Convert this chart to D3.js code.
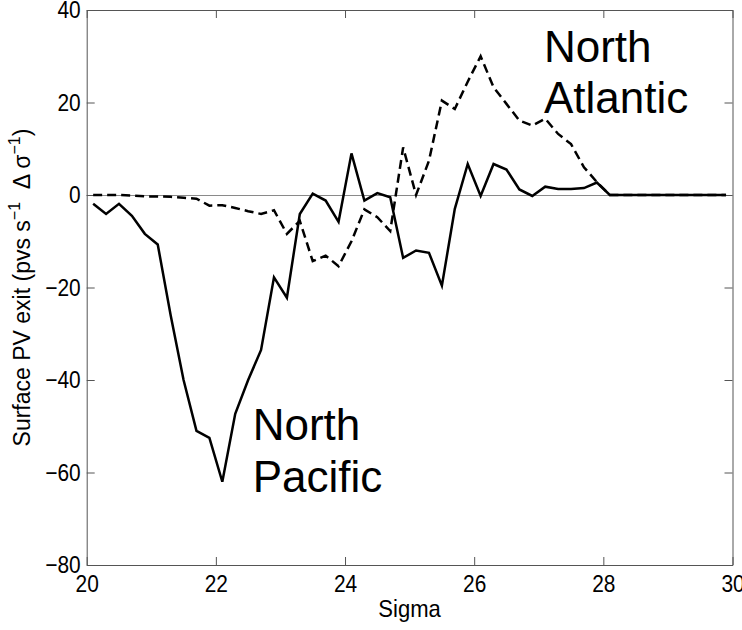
<!DOCTYPE html>
<meta charset="utf-8">
<html>
<head>
<style>
  body { margin: 0; background: #fff; }
  text { font-family: "Liberation Sans", Arial, Helvetica, sans-serif; }
</style>
</head>
<body>
<div id="chartContainer"></div>
<script src="https://d3js.org/d3.v7.min.js"></script>
<script type="text/javascript">

  // sigma bin centres (0.2 wide bins)
  var sigma = [20.1, 20.3, 20.5, 20.7, 20.9, 21.1, 21.3, 21.5, 21.7, 21.9,
               22.1, 22.3, 22.5, 22.7, 22.9, 23.1, 23.3, 23.5, 23.7, 23.9,
               24.1, 24.3, 24.5, 24.7, 24.9, 25.1, 25.3, 25.5, 25.7, 25.9,
               26.1, 26.3, 26.5, 26.7, 26.9, 27.1, 27.3, 27.5, 27.7, 27.9,
               28.1, 28.3, 28.5, 28.7, 28.9, 29.1, 29.3, 29.5, 29.7, 29.9];

  // surface PV exit, North Pacific (solid)
  var northPacific = [-1.9, -4.1, -1.9, -4.5, -8.4, -10.7, -26, -40, -51, -52.5,
                      -62, -47.3, -40, -33.5, -17.8, -22.2, -4.1, 0.3, -1.2, -5.8,
                      9.0, -1.2, 0.4, -0.5, -13.6, -12.0, -12.5, -19.6, -3.0, 6.7,
                      -0.2, 6.7, 5.5, 1.2, -0.2, 1.8, 1.3, 1.3, 1.5, 2.7,
                      0, 0, 0, 0, 0, 0, 0, 0, 0, 0];

  // surface PV exit, North Atlantic (dashed)
  var northAtlantic = [0, 0, 0, -0.1, -0.3, -0.3, -0.4, -0.6, -0.8, -2.3,
                       -2.2, -2.8, -3.5, -4.1, -3.3, -8.4, -5.6, -14.3, -13.1, -15.4,
                       -10.0, -3.1, -4.8, -7.8, 10.3, 0, 7.4, 20.4, 18.6, 24.5,
                       30.0, 23.3, 19.7, 16.1, 15.0, 16.5, 13.2, 11.0, 6.0, 2.8,
                       0, 0, 0, 0, 0, 0, 0, 0, 0, 0];

  var xTicks = [20, 22, 24, 26, 28, 30];
  var yTicks = [-80, -60, -40, -20, 0, 20, 40];

  var width = 742, height = 630;
  var margin = {top: 10, right: 9.5, bottom: 65, left: 86.7};
  var squeeze = 0.87; // matlab tick font is a bit narrower than Arial

  var svg = d3.select("#chartContainer").append("svg")
    .attr("width", width)
    .attr("height", height);

  var x = d3.scaleLinear().domain([20, 30]).range([margin.left, width - margin.right]);
  var y = d3.scaleLinear().domain([-80, 40]).range([height - margin.bottom, margin.top]);

  // zero line
  svg.append("line")
    .attr("x1", x(20)).attr("x2", x(30))
    .attr("y1", Math.round(y(0)) + 0.5).attr("y2", Math.round(y(0)) + 0.5)
    .attr("stroke", "#8a8a8a")
    .attr("stroke-width", 1);

  // box axes, ticks pointing in
  var axBottom = svg.append("g")
    .attr("transform", "translate(0," + y(-80) + ")")
    .call(d3.axisBottom(x).tickValues(xTicks).tickSizeInner(-8).tickSizeOuter(0).tickPadding(10));
  var axTop = svg.append("g")
    .attr("transform", "translate(0," + y(40) + ")")
    .call(d3.axisTop(x).tickValues(xTicks).tickSizeInner(-8).tickSizeOuter(0).tickFormat(""));
  var axLeft = svg.append("g")
    .attr("transform", "translate(" + x(20) + ",0)")
    .call(d3.axisLeft(y).tickValues(yTicks).tickSizeInner(-8).tickSizeOuter(0).tickPadding(6));
  var axRight = svg.append("g")
    .attr("transform", "translate(" + x(30) + ",0)")
    .call(d3.axisRight(y).tickValues(yTicks).tickSizeInner(-8).tickSizeOuter(0).tickFormat(""));

  [axBottom, axTop, axLeft, axRight].forEach(function (g) {
    g.attr("color", "#555");
    g.selectAll("text").attr("fill", "#000").style("font-size", "24px");
  });
  axBottom.selectAll(".tick text")
    .attr("transform", "scale(" + squeeze + ",1)");
  axLeft.selectAll(".tick text")
    .attr("x", -6 / squeeze)
    .attr("transform", "scale(" + squeeze + ",1)");

  // data lines
  var line = d3.line()
    .x(function (d, i) { return x(sigma[i]); })
    .y(function (d) { return y(d); });

  svg.append("path")
    .datum(northPacific)
    .attr("d", line)
    .attr("fill", "none")
    .attr("stroke", "#000")
    .attr("stroke-width", 2.5)
    .attr("stroke-linejoin", "miter");

  svg.append("path")
    .datum(northAtlantic)
    .attr("d", line)
    .attr("fill", "none")
    .attr("stroke", "#000")
    .attr("stroke-width", 2.5)
    .attr("stroke-dasharray", "9,5");

  // region labels
  svg.selectAll("na_text")
    .data(["North", "Atlantic"])
    .enter()
    .append("text")
    .attr("x", x(27.08))
    .attr("y", function (d, i) { return y(28.8) + i * 51; })
    .style("font-size", "44px")
    .text(function (d) { return d; });

  svg.selectAll("np_text")
    .data(["North", "Pacific"])
    .enter()
    .append("text")
    .attr("x", x(22.57))
    .attr("y", function (d, i) { return y(-53) + i * 52; })
    .style("font-size", "44px")
    .text(function (d) { return d; });

  // axis titles
  svg.append("text")
    .attr("x", (x(20) + x(30)) / 2)
    .attr("y", 617)
    .attr("text-anchor", "middle")
    .attr("transform", "translate(" + ((x(20) + x(30)) / 2) * (1 - 0.92) + ",0) scale(0.92,1)")
    .style("font-size", "24px")
    .text("Sigma");

  var ylab = svg.append("text")
    .attr("transform", "translate(30," + (y(-80) + y(40)) / 2 + ") rotate(-90)")
    .attr("text-anchor", "middle")
    .style("font-size", "23px");
  ylab.append("tspan").text("Surface PV exit (pvs s");
  ylab.append("tspan").attr("dy", -10).style("font-size", "16px").text("\u22121");
  ylab.append("tspan").attr("dy", 10).text("\u00a0 \u0394 \u03c3");
  ylab.append("tspan").attr("dy", -10).style("font-size", "16px").text("\u22121");
  ylab.append("tspan").attr("dy", 10).text(")");

</script>
</body>
</html>
